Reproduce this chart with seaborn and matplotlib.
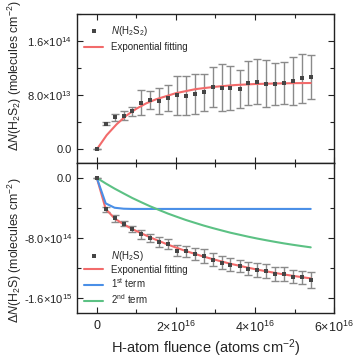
import math
import matplotlib
matplotlib.use("Agg")
import matplotlib.pyplot as plt
import matplotlib.ticker as mticker
import seaborn as sns

# H-atom fluence (1e16 atoms cm-2)
fluence = [0, 0.225, 0.45, 0.68, 0.90, 1.13, 1.35, 1.58, 1.80, 2.03, 2.25, 2.48, 2.70,
           2.93, 3.16, 3.38, 3.61, 3.83, 4.06, 4.28, 4.51, 4.73, 4.96, 5.18, 5.41]

# top panel: N(H2S2), 1e13 molecules cm-2
h2s2 = [0, 3.8, 4.75, 5.0, 5.6, 6.9, 7.26, 7.15, 7.6, 8.0, 7.95, 8.2, 8.4,
        9.2, 9.1, 9.0, 8.9, 9.8, 10.0, 9.7, 9.7, 9.8, 10.1, 10.5, 10.7]
h2s2_err = [0, 0.25, 0.5, 0.7, 0.6, 1.85, 1.3, 1.97, 1.97, 2.9, 2.85, 3.0, 2.7,
            3.0, 3.5, 3.25, 2.8, 3.2, 3.3, 3.45, 3.1, 3.06, 3.5, 3.6, 3.3]
h2s2_fit_x = [0, 0.25, 0.5, 0.75, 1.0, 1.25, 1.5, 2.0, 2.5, 3.0, 3.5, 4.0, 4.5, 5.0, 5.41]
h2s2_fit = [0, 2.1, 3.7, 5.0, 6.0, 6.8, 7.4, 8.3, 8.9, 9.25, 9.5, 9.65, 9.73, 9.78, 9.8]

# bottom panel: N(H2S), 1e14 molecules cm-2
h2s = [0, -4.2, -5.4, -6.1, -6.8, -7.5, -8.0, -8.5, -8.8, -9.7, -9.8, -10.13, -10.4,
       -10.9, -11.3, -11.55, -11.75, -12.09, -12.3, -12.4, -12.8, -12.82, -13.16, -13.25, -13.65]
h2s_err = [0, 0.35, 0.44, 0.35, 0.35, 0.6, 0.56, 0.67, 0.67, 0.78, 0.75, 0.8, 0.89,
           0.89, 0.89, 0.89, 0.85, 0.89, 0.89, 0.89, 0.9, 0.9, 0.9, 0.9, 1.04]
h2s_fit = [0, -4.14, -5.41, -6.19, -6.83, -7.40, -7.93, -8.43, -8.90, -9.34, -9.75, -10.13, -10.49,
           -10.83, -11.15, -11.45, -11.72, -11.98, -12.23, -12.45, -12.67, -12.87, -13.06, -13.23, -13.40]
term1 = [0, -3.40, -3.98, -4.11, -4.14, -4.14, -4.14, -4.14, -4.14, -4.14, -4.14, -4.14, -4.14,
         -4.14, -4.14, -4.14, -4.14, -4.14, -4.14, -4.14, -4.14, -4.14, -4.14, -4.14, -4.14]
term2 = [0, -0.74, -1.43, -2.08, -2.69, -3.26, -3.79, -4.29, -4.76, -5.20, -5.61, -5.99, -6.35,
         -6.69, -7.01, -7.31, -7.58, -7.84, -8.09, -8.31, -8.53, -8.73, -8.92, -9.09, -9.26]

sns.set_style("ticks")
plt.rcParams['font.family'] = ['Liberation Sans', 'DejaVu Sans']
plt.rcParams['mathtext.fontset'] = 'custom'
plt.rcParams['mathtext.rm'] = 'Liberation Sans'
plt.rcParams['mathtext.it'] = 'Liberation Sans:italic'
plt.rcParams['mathtext.default'] = 'regular'

RED = '#f26b6b'
BLUE = '#4a8fe7'
GREEN = '#5cc184'
DOT = '#454545'
BAR = '#8a8a8a'

x = [v * 1e16 for v in fluence]

fig = plt.figure(figsize=(3.55, 3.58), dpi=100, facecolor='white')
ax1 = fig.add_axes([0.217, 0.545, 0.724, 0.416])
ax2 = fig.add_axes([0.217, 0.126, 0.724, 0.419])

# top
y1 = [v * 1e13 for v in h2s2]
e1 = [v * 1e13 for v in h2s2_err]
ax1.errorbar(x, y1, yerr=e1, fmt='none', ecolor=BAR, elinewidth=1, capsize=3, capthick=1, zorder=2)
sns.lineplot(x=[v * 1e16 for v in h2s2_fit_x], y=[v * 1e13 for v in h2s2_fit], ax=ax1,
             color=RED, lw=1.5, label='Exponential fitting', zorder=3)
sns.scatterplot(x=x, y=y1, ax=ax1, marker='s', s=10, color=DOT, edgecolor=DOT, linewidth=0,
                label=r'$\it{N}$(H$_2$S$_2$)', zorder=4)

# bottom
y2 = [v * 1e14 for v in h2s]
e2 = [v * 1e14 for v in h2s_err]
ax2.errorbar(x, y2, yerr=e2, fmt='none', ecolor=BAR, elinewidth=1, capsize=3, capthick=1, zorder=2)
sns.lineplot(x=x, y=[v * 1e14 for v in h2s_fit], ax=ax2, color=RED, lw=1.5,
             label='Exponential fitting', zorder=3)
sns.lineplot(x=x, y=[v * 1e14 for v in term1], ax=ax2, color=BLUE, lw=1.5,
             label=r'1$^{st}$ term', zorder=3)
sns.lineplot(x=x, y=[v * 1e14 for v in term2], ax=ax2, color=GREEN, lw=1.5,
             label=r'2$^{nd}$ term', zorder=3)
sns.scatterplot(x=x, y=y2, ax=ax2, marker='s', s=10, color=DOT, edgecolor=DOT, linewidth=0,
                label=r'$\it{N}$(H$_2$S)', zorder=4)


def sci(v, pos):
    if v == 0:
        return '0.0'
    s = '-' if v < 0 else ''
    v = abs(v)
    ex = int(math.floor(math.log10(v) + 1e-9))
    m = v / 10 ** ex
    return s + f'{m:.1f}' + '\u00d710$^{%d}$' % ex


def xfmt(v, p):
    if v == 0:
        return '0'
    return '%d\u00d710$^{16}$' % round(v / 1e16)


ax1.set_ylim(-2e13, 2e14)
ax2.set_ylim(-1.8e15, 2e14)
for ax in (ax1, ax2):
    ax.set_xlim(-0.5e16, 6e16)
    ax.xaxis.set_major_locator(mticker.MultipleLocator(2e16))
    ax.xaxis.set_minor_locator(mticker.MultipleLocator(1e16))
    ax.tick_params(which='both', direction='in', top=True, right=True, labelsize=8,
                   width=0.8, colors='#222222')
    ax.tick_params(which='major', length=4)
    ax.tick_params(which='minor', length=3)
    for sp in ax.spines.values():
        sp.set_linewidth(1.0)
        sp.set_color('#222222')

ax1.yaxis.set_major_locator(mticker.MultipleLocator(8e13))
ax1.yaxis.set_minor_locator(mticker.MultipleLocator(4e13))
ax2.yaxis.set_major_locator(mticker.MultipleLocator(8e14))
ax2.yaxis.set_minor_locator(mticker.MultipleLocator(4e14))
ax1.yaxis.set_major_formatter(mticker.FuncFormatter(sci))
ax2.yaxis.set_major_formatter(mticker.FuncFormatter(sci))
ax2.xaxis.set_major_formatter(mticker.FuncFormatter(xfmt))
ax1.tick_params(axis='x', labelbottom=False)
ax2.tick_params(axis='x', pad=5, labelsize=9)

ax1.set_xlabel('')
ax1.set_ylabel(r'$\Delta$$\it{N}$(H$_2$S$_2$) (molecules cm$^{-2}$)', fontsize=8.8)
ax2.set_ylabel(r'$\Delta$$\it{N}$(H$_2$S) (molecules cm$^{-2}$)', fontsize=8.8)
ax2.set_xlabel(r'H-atom fluence (atoms cm$^{-2}$)', fontsize=10.5, labelpad=2)
ax1.yaxis.set_label_coords(-0.205, 0.585)
ax2.yaxis.set_label_coords(-0.205, 0.42)

h, l = ax1.get_legend_handles_labels()
ax1.legend(h[::-1], l[::-1], loc='upper left', bbox_to_anchor=(0.0, 0.98), frameon=False,
           fontsize=7, handlelength=2.0, labelspacing=0.45, borderaxespad=0.3)
h, l = ax2.get_legend_handles_labels()
order = [3, 0, 1, 2]
ax2.legend([h[i] for i in order], [l[i] for i in order], loc='lower left',
           bbox_to_anchor=(0.0, 0.0), frameon=False, fontsize=7, handlelength=2.0,
           labelspacing=0.2, borderaxespad=0.3)

fig.savefig('out.png', dpi=100, facecolor='white')
